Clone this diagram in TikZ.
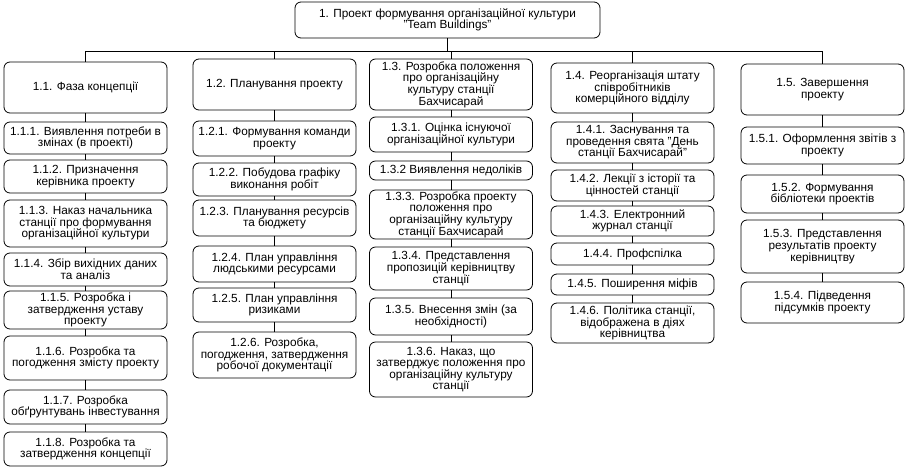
\documentclass[tikz,border=0pt]{standalone}
\usepackage{fontspec}
\setmainfont{Liberation Sans}
\usepackage{tikz}
\usetikzlibrary{calc}

\begin{document}
\begin{tikzpicture}[x=1pt,y=-1pt,
        box/.style={draw,rounded corners=6pt,line width=0.8pt,align=center,inner sep=1pt,
            minimum width=163,font=\fontsize{11.8}{11.6}\selectfont},
        conn/.style={line width=0.8pt}]
        \useasboundingbox (0,0) rectangle (908,469);

        % Root and the bus line:
        \node[box,minimum width=305,minimum height=36] (n1) at (447.5,20)
            {1. Проект формування організаційної культури\\"Team Buildings"};
        \coordinate (bus) at (447.5,51);

        % Phases (top row):
        \foreach \nm/\cx/\ya/\yb/\txt in {%
            n11/85.5/62/113/{1.1. Фаза концепції},
            n12/274.5/59/110/{1.2. Планування проекту},
            n13/451/59/110/{1.3. Розробка положення\\про організаційну\\культуру станції\\Бахчисарай},
            n14/632.5/63/113/{1.4. Реорганізація штату\\співробітників\\комерційного відділу},
            n15/822.5/64/115/{1.5. Завершення\\проекту}}{%
            \pgfmathsetmacro\hh{\yb-\ya}
            \node[box,minimum height=\hh] (\nm) at (\cx,{(\ya+\yb)/2}) {\txt};
        }

        % Column 1.1:
        \foreach \nm/\ya/\yb/\txt in {%
            n111/122/154/{1.1.1. Виявлення потреби в\\змінах (в проекті)},
            n112/160/193/{1.1.2. Призначення\\керівника проекту},
            n113/200/247/{1.1.3. Наказ начальника\\станції про формування\\організаційної культури},
            n114/253/286/{1.1.4. Збір вихідних даних\\та аналіз},
            n115/291/329/{1.1.5. Розробка і\\затвердження уставу\\проекту},
            n116/336/380/{1.1.6. Розробка та\\погодження змісту проекту},
            n117/390/424/{1.1.7. Розробка\\обґрунтувань інвестування},
            n118/432/466/{1.1.8. Розробка та\\затвердження концепції}}{%
            \pgfmathsetmacro\hh{\yb-\ya}
            \node[box,minimum height=\hh] (\nm) at (85.5,{(\ya+\yb)/2}) {\txt};
        }

        % Column 1.2:
        \foreach \nm/\ya/\yb/\txt in {%
            n121/121/156/{1.2.1. Формування команди\\проекту},
            n122/163/196/{1.2.2. Побудова графіку\\виконання робіт},
            n123/200/236/{1.2.3. Планування ресурсів\\та бюджету},
            n124/246/282/{1.2.4. План управління\\людськими ресурсами},
            n125/288/322/{1.2.5. План управління\\ризиками},
            n126/332/378/{1.2.6. Розробка,\\погодження, затвердження\\робочої документації}}{%
            \pgfmathsetmacro\hh{\yb-\ya}
            \node[box,minimum height=\hh] (\nm) at (274.5,{(\ya+\yb)/2}) {\txt};
        }

        % Column 1.3:
        \foreach \nm/\ya/\yb/\txt in {%
            n131/117/152/{1.3.1. Оцінка існуючої\\організаційної культури},
            n132/161/180/{1.3.2 Виявлення недоліків},
            n133/190/239/{1.3.3. Розробка проекту\\положення про\\організаційну культуру\\станції Бахчисарай},
            n134/247/290/{1.3.4. Представлення\\пропозицій керівництву\\станції},
            n135/298/335/{1.3.5. Внесення змін (за\\необхідності)},
            n136/342/397/{1.3.6. Наказ, що\\затверджує положення про\\організаційну культуру\\станції}}{%
            \pgfmathsetmacro\hh{\yb-\ya}
            \node[box,minimum height=\hh] (\nm) at (451,{(\ya+\yb)/2}) {\txt};
        }

        % Column 1.4:
        \foreach \nm/\ya/\yb/\txt in {%
            n141/122/163/{1.4.1. Заснування та\\проведення свята "День\\станції Бахчисарай"},
            n142/170/201/{1.4.2. Лекції з історії та\\цінностей станції},
            n143/206/236/{1.4.3. Електронний\\журнал станції},
            n144/243/265/{1.4.4. Профспілка},
            n145/274/295/{1.4.5. Поширення міфів},
            n146/303/343/{1.4.6. Політика станції,\\відображена в діях\\керівництва}}{%
            \pgfmathsetmacro\hh{\yb-\ya}
            \node[box,minimum height=\hh] (\nm) at (632.5,{(\ya+\yb)/2}) {\txt};
        }

        % Column 1.5:
        \foreach \nm/\ya/\yb/\txt in {%
            n151/127/164/{1.5.1. Оформлення звітів з\\проекту},
            n152/175/213/{1.5.2. Формування\\бібліотеки проектів},
            n153/220/273/{1.5.3. Представлення\\результатів проекту\\керівництву},
            n154/282/323/{1.5.4. Підведення\\підсумків проекту}}{%
            \pgfmathsetmacro\hh{\yb-\ya}
            \node[box,minimum height=\hh] (\nm) at (822.5,{(\ya+\yb)/2}) {\txt};
        }

        % Connectors:
        \draw[conn] (n1) -- (bus);
        \foreach \p in {n11,n12,n13,n14,n15}
            \draw[conn] (bus) -| (\p);
        \foreach \a/\b in {n11/n111,n111/n112,n112/n113,n113/n114,n114/n115,n115/n116,n116/n117,n117/n118,
            n12/n121,n121/n122,n122/n123,n123/n124,n124/n125,n125/n126,
            n13/n131,n131/n132,n132/n133,n133/n134,n134/n135,n135/n136,
            n14/n141,n141/n142,n142/n143,n143/n144,n144/n145,n145/n146,
            n15/n151,n151/n152,n152/n153,n153/n154}
            \draw[conn] (\a) -- (\b);
\end{tikzpicture}
\end{document}
